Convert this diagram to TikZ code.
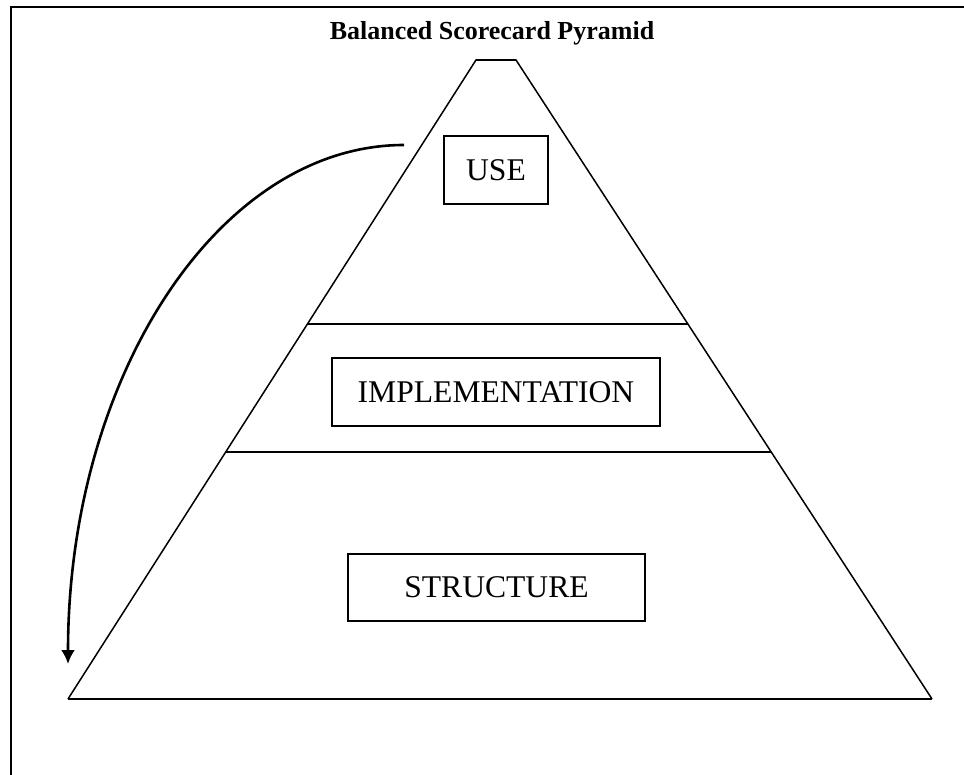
\documentclass[tikz,border=0pt]{standalone}
\usepackage{fontspec}
\setmainfont{Liberation Serif}
\usetikzlibrary{arrows.meta,calc}

\tikzset{
  levelbox/.style={draw, line width=2pt, inner sep=0pt, align=center,
    font=\fontsize{31.6}{36}\selectfont},
  edgeline/.style={line width=1.5pt},
  divider/.style={line width=1.8pt},
  flowarrow/.style={line width=2.6pt, -{Latex[length=14pt,width=14pt]}},
  frameline/.style={line width=2.2pt}
}

\begin{document}
\begin{tikzpicture}[x=1pt,y=-1pt]
  \useasboundingbox (0,0) rectangle (964,775);

  % frame: top and left edges only
  \draw[frameline] (11,775) -- (11,7) -- (964,7);

  % title
  \node[anchor=base, font=\fontsize{26}{30}\selectfont\bfseries] (title) at (492,40)
    {Balanced Scorecard Pyramid};

  % pyramid outline
  \coordinate (apexL) at (476,60);
  \coordinate (apexR) at (516,60);
  \coordinate (baseL) at (68,699);
  \coordinate (baseR) at (932,699);
  \draw[edgeline, line join=miter] (baseL) -- (apexL) -- (apexR) -- (baseR);
  \draw[line width=2pt] (apexL) -- (apexR);
  \draw[line width=2pt] (baseL) -- (baseR);

  % level dividers
  \draw[divider] ($(apexL)!0.4131!(baseL)$) -- ($(apexR)!0.4131!(baseR)$);
  \draw[divider] ($(apexL)!0.6135!(baseL)$) -- ($(apexR)!0.6135!(baseR)$);

  % level labels
  \node[levelbox, minimum width=104pt, minimum height=68pt] (use) at (496,170) {USE};
  \node[levelbox, minimum width=328pt, minimum height=68pt] (impl) at (496,392) {IMPLEMENTATION};
  \node[levelbox, minimum width=297pt, minimum height=67pt] (struct) at (496.5,587.5) {STRUCTURE};

  % feedback arrow from the top level down to the base
  \coordinate (arrowstart) at (404,145);
  \coordinate (arrowend) at (68,664);
  \draw[flowarrow] (arrowstart) .. controls (218.4,145) and (68,377.4) .. (arrowend);
\end{tikzpicture}
\end{document}
